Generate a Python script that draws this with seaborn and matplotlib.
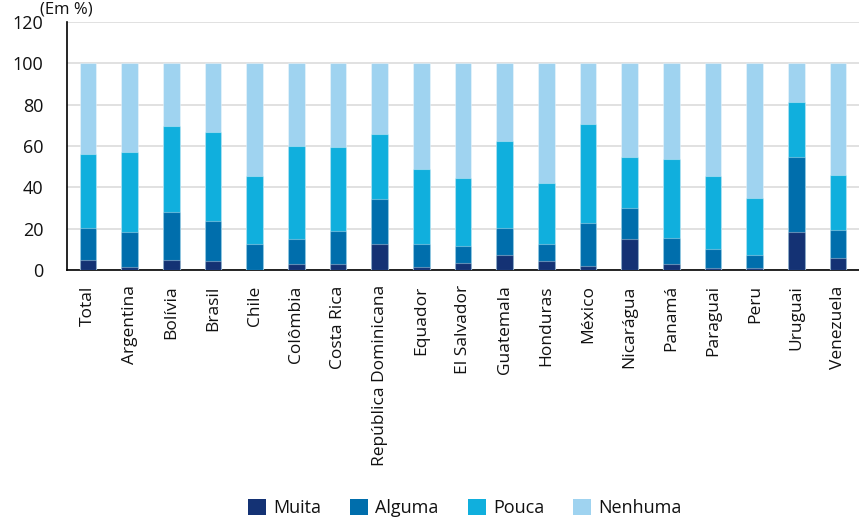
import matplotlib
matplotlib.use("Agg")
import matplotlib.pyplot as plt
import seaborn as sns
import numpy as np
import pandas as pd
from matplotlib.patches import Patch

categories = ["Total", "Argentina", "Bolívia", "Brasil", "Chile", "Colômbia", "Costa Rica",
              "República Dominicana", "Equador", "El Salvador", "Guatemala", "Honduras",
              "México", "Nicarágua", "Panamá", "Paraguai", "Peru", "Uruguai", "Venezuela"]
muita   = [4.9, 1.3, 4.9, 4.2, 0.0, 2.9, 2.9, 12.4, 1.3, 3.3, 7.3, 4.2, 1.8, 15.1, 2.9, 0.8, 1.0, 18.5, 5.9]
alguma  = [15.4, 17.1, 23.4, 19.7, 12.5, 12.1, 16.0, 22.1, 11.2, 8.4, 13.0, 8.2, 21.1, 15.1, 12.7, 9.3, 6.2, 36.0, 13.6]
pouca   = [36.0, 38.8, 41.4, 42.7, 33.2, 45.0, 40.4, 31.5, 36.3, 32.7, 42.1, 29.9, 47.7, 24.4, 37.9, 35.6, 27.8, 26.6, 26.7]
nenhuma = [43.7, 42.8, 30.3, 33.4, 54.3, 40.0, 40.7, 34.0, 51.2, 55.6, 37.6, 57.7, 29.4, 45.4, 46.5, 54.3, 65.0, 18.9, 53.8]
series = ["Muita", "Alguma", "Pouca", "Nenhuma"]
colors = ["#143274", "#006eac", "#10afdd", "#9fd3f0"]
yticks = [0, 20, 40, 60, 80, 100, 120]

sns.set_style("white")
plt.rcParams['font.family'] = ['Open Sans', 'DejaVu Sans']
plt.rcParams['text.color'] = '#111111'
plt.rcParams['xtick.color'] = '#111111'
plt.rcParams['ytick.color'] = '#111111'

df = pd.DataFrame({"cat": categories, "Muita": muita, "Alguma": alguma,
                   "Pouca": pouca, "Nenhuma": nenhuma})
cum = df[series].cumsum(axis=1)

fig = plt.figure(figsize=(8.59, 5.18), dpi=100)
ax = fig.add_axes([67/859, 1 - 270/518, 1 - 67/859, (270 - 22)/518])

for s, c in zip(series[::-1], colors[::-1]):
    sns.barplot(x=df["cat"], y=cum[s], color=c, width=0.4, ax=ax,
                edgecolor=(1, 1, 1, 0.35), linewidth=0.8, saturation=1, zorder=3)

ax.set_xlim(-0.5, len(categories) - 0.5)
ax.set_ylim(0, 120)
ax.set_yticks(yticks)
ax.set_yticklabels([str(v) for v in yticks], fontsize=13)
ax.yaxis.grid(True, color="#dcdcdc", linewidth=1.2, zorder=0)
ax.set_axisbelow(True)
ax.set_xlabel("")
ax.set_ylabel("")
ax.set_xticks(range(len(categories)))
ax.set_xticklabels(categories, rotation=90, fontsize=12.5)
ax.set_xticks(np.arange(-0.5, len(categories)), minor=True)
ax.tick_params(axis="x", which="major", length=0, pad=11)
ax.tick_params(axis="x", which="minor", length=12, width=1, color="#555555", direction="out")
ax.tick_params(axis="y", which="major", length=14, width=1, color="black", direction="out", pad=3)
for side in ["top", "right"]:
    ax.spines[side].set_visible(False)
for side in ["left", "bottom"]:
    ax.spines[side].set_color("black")
    ax.spines[side].set_linewidth(1.2)

handles = [Patch(facecolor=c, edgecolor="none") for c in colors]
fig.legend(handles, series, loc="center", bbox_to_anchor=(0.541, 0.019), ncol=4,
           frameon=False, fontsize=13, handlelength=1.0, handleheight=1.0,
           handletextpad=0.4, columnspacing=1.6, borderpad=0.2)

fig.text(40/859, 0.998, "(Em %)", fontsize=12, ha="left", va="top")

fig.savefig("out.png", dpi=100)
